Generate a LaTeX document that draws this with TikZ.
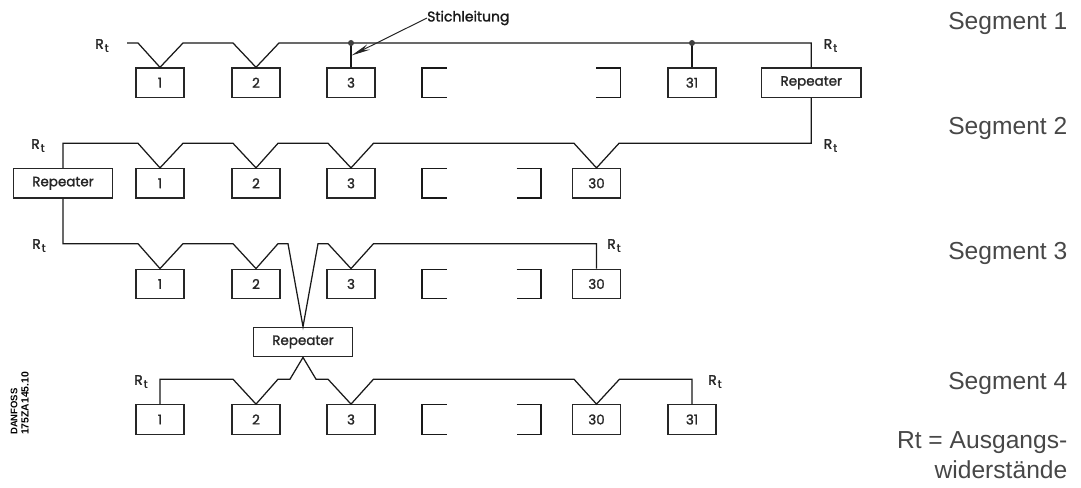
\documentclass[tikz,border=0pt]{standalone}
\usepackage{fontspec}
\setmainfont{Poppins}[RawFeature={embolden=1.6}]
\newfontfamily\sidefont{Liberation Sans}
\usetikzlibrary{arrows.meta}
\newcommand{\Rterm}{R\kern1pt\raisebox{-3pt}{\fontsize{11}{11}\selectfont t}}
\tikzset{
  wire/.style={line width=1.25pt,line join=miter,color=black!90},
  unit/.style={draw=black!90,line width=1.25pt,minimum width=48pt,minimum height=29.5pt,inner sep=0pt,font=\fontsize{13.5}{14}\selectfont,color=black!85},
  rep/.style={unit,minimum width=99.5pt},
  rlabel/.style={inner sep=0pt,font=\fontsize{14}{15}\selectfont,color=black!85},
  side/.style={inner sep=0pt,anchor=base east,font=\sidefont\fontsize{24.6}{26}\selectfont,color=black!72},
  stub/.style={inner sep=0pt,rotate=90,anchor=west,color=black},
  dotj/.style={circle,fill=black!75,inner sep=0pt,minimum size=6pt}
}
\begin{document}
\begin{tikzpicture}[x=1pt,y=-1pt]
\useasboundingbox (0,0) rectangle (1081,487);
% row 1
\node[unit] (a1) at (160,82.7) {1};
\node[unit] (a2) at (256,82.7) {2};
\node[unit] (a3) at (351,82.7) {3};
\node[unit] (a31) at (692,82.7) {31};
\node[rep] (ar) at (811.3,82.7) {Repeater};
\draw[wire] (446.5,68) -- (422,68) -- (422,97.5) -- (446.5,97.5);
\draw[wire] (596,68) -- (620.5,68) -- (620.5,97.5) -- (596,97.5);
% row 2
\node[rep] (br) at (63,183.3) {Repeater};
\node[unit] (b1) at (160,183.3) {1};
\node[unit] (b2) at (256,183.3) {2};
\node[unit] (b3) at (351,183.3) {3};
\node[unit] (b30) at (596.5,183.3) {30};
\draw[wire] (446.5,168.5) -- (422,168.5) -- (422,198) -- (446.5,198);
\draw[wire] (516.5,168.5) -- (541,168.5) -- (541,198) -- (516.5,198);
% row 3
\node[unit] (c1) at (160,284) {1};
\node[unit] (c2) at (256,284) {2};
\node[unit] (c3) at (351,284) {3};
\node[unit] (c30) at (596.5,284) {30};
\draw[wire] (446.5,269.3) -- (422,269.3) -- (422,298.8) -- (446.5,298.8);
\draw[wire] (516.5,269.3) -- (541,269.3) -- (541,298.8) -- (516.5,298.8);
% repeater 3
\node[rep] (dr) at (303,342) {Repeater};
% row 4
\node[unit] (d1) at (160,419.5) {1};
\node[unit] (d2) at (256,419.5) {2};
\node[unit] (d3) at (351,419.5) {3};
\node[unit] (d30) at (596.5,419.5) {30};
\node[unit] (d31) at (692,419.5) {31};
\draw[wire] (446.5,404.7) -- (422,404.7) -- (422,434.2) -- (446.5,434.2);
\draw[wire] (516.5,404.7) -- (541,404.7) -- (541,434.2) -- (516.5,434.2);
% wires
\coordinate (s1) at (127,43);
\draw[wire] (s1) -- (138,43) -- (a1.north) -- (183,43) -- (233,43) -- (a2.north) -- (279,43) -- (811.3,43) -- (ar.north);
\coordinate (j3) at (351,43);
\coordinate (j31) at (692,43);
\draw[wire] (j3) -- (a3.north);
\draw[wire] (j31) -- (a31.north);
\node[dotj] (n3) at (j3) {};
\node[dotj] (n31) at (j31) {};
\draw[wire] (ar.south) -- (811.3,143.3) -- (619,143.3) -- (b30.north) -- (574,143.3) -- (373.5,143.3) -- (b3.north) -- (328,143.3) -- (278,143.3) -- (b2.north) -- (233,143.3) -- (183,143.3) -- (b1.north) -- (138,143.3) -- (63,143.3) -- (br.north);
\draw[wire] (br.south) -- (63,243.7) -- (138,243.7) -- (c1.north) -- (183,243.7) -- (233,243.7) -- (c2.north) -- (278,243.7) -- (288,243.7) -- (dr.north) -- (318,243.7) -- (328,243.7) -- (c3.north) -- (373.5,243.7) -- (596.5,243.7) -- (c30.north);
\draw[wire] (d1.north) -- (160,379.2) -- (233,379.2) -- (d2.north) -- (278,379.2) -- (290,379.2) -- (dr.south) -- (316,379.2) -- (328,379.2) -- (d3.north) -- (373.5,379.2) -- (574,379.2) -- (d30.north) -- (619.5,379.2) -- (692,379.2) -- (d31.north);
% stichleitung
\node[inner sep=0pt,anchor=west,font=\fontsize{14}{15}\selectfont,color=black!90] (st) at (427,18) {Stichleitung};
\coordinate (tip) at (351.5,55.5);
\draw[line width=1pt,color=black!85,-{Stealth[length=19pt,width=6pt]}] (st.west) -- (tip);
% R labels
\node[rlabel] (r1) at (102,45.5) {\Rterm};
\node[rlabel] (r2) at (830.5,45.5) {\Rterm};
\node[rlabel] (r3) at (830.5,145.5) {\Rterm};
\node[rlabel] (r4) at (38,145.5) {\Rterm};
\node[rlabel] (r5) at (39,245.5) {\Rterm};
\node[rlabel] (r6) at (614,245.5) {\Rterm};
\node[rlabel] (r7) at (141,381.5) {\Rterm};
\node[rlabel] (r8) at (715,381.5) {\Rterm};
% side text
\node[side] (s1t) at (1067.5,29.5) {Segment 1};
\node[side] (s2t) at (1067.5,134.5) {Segment 2};
\node[side] (s3t) at (1067.5,259.5) {Segment 3};
\node[side] (s4t) at (1067.5,389) {Segment 4};
\node[side] (rt1) at (1067.5,448) {Rt = Ausgangs-};
\node[side] (rt2) at (1067.5,478) {widerstände};
% danfoss
\node[stub,font=\sidefont\bfseries\fontsize{9.5}{10}\selectfont] (df1) at (14,435) {DANFOSS};
\node[stub,font=\sidefont\bfseries\fontsize{10.4}{11}\selectfont] (df2) at (25,435) {175ZA145.10};
\end{tikzpicture}
\end{document}
